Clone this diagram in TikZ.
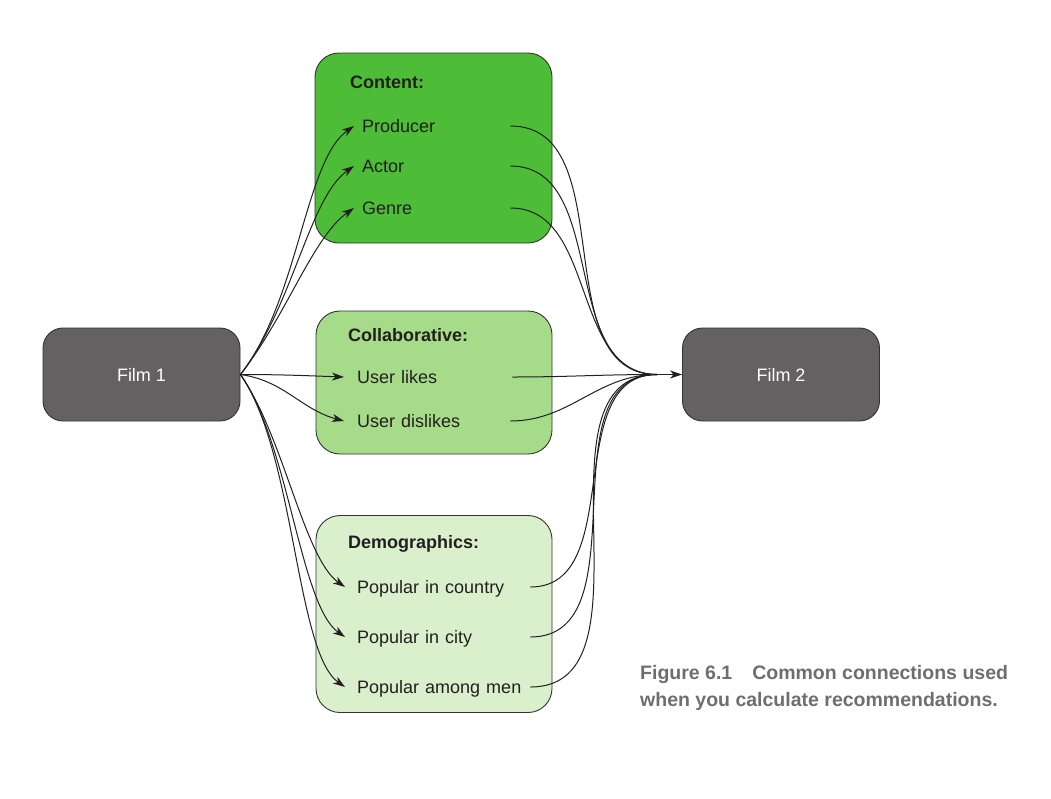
\documentclass[tikz,border=0pt]{standalone}
\usepackage{fontspec}
\setmainfont{Liberation Sans}
\usetikzlibrary{arrows.meta}
\definecolor{filmgray}{HTML}{636161}
\definecolor{contentgreen}{HTML}{4DBD38}
\definecolor{collabgreen}{HTML}{A6DC89}
\definecolor{demogreen}{HTML}{DAF0CD}
\definecolor{inkblack}{HTML}{231F20}
\definecolor{capgray}{HTML}{6D6E70}
\definecolor{edgegray}{HTML}{333333}
\tikzset{
  film/.style={draw=edgegray, line width=0.9pt, fill=filmgray, rounded corners=20pt,
    minimum width=197pt, minimum height=93pt, text=white, font=\fontsize{18}{22}\selectfont},
  group/.style={draw=edgegray, line width=0.9pt, rounded corners=24pt},
  head/.style={anchor=base west, inner sep=0pt, text=inkblack, font=\fontsize{18}{22}\selectfont\bfseries},
  item/.style={anchor=west, inner sep=0pt, text height=14pt, text depth=2pt, align=left,
    text=inkblack, font=\fontsize{18}{22}\selectfont},
  link/.style={draw=inkblack, line width=1pt},
  arr/.style={link, -{Stealth[length=12pt,width=8pt,inset=3.5pt]}},
  caption/.style={anchor=base west, inner sep=0pt, text=capgray, font=\fontsize{19.5}{24}\selectfont\bfseries}
}
\begin{document}
\begin{tikzpicture}[x=1pt,y=1pt]
\useasboundingbox (0,0) rectangle (1051,-798);
% group boxes
\node[group, fill=contentgreen, minimum width=237pt, minimum height=190pt] (gcontent) at (433.5,-148) {};
\node[group, fill=collabgreen, minimum width=236pt, minimum height=143pt] (gcollab) at (434,-382.5) {};
\node[group, fill=demogreen, minimum width=236pt, minimum height=197pt] (gdemo) at (434,-614) {};
% film nodes
\node[film] (f1) at (141.5,-374.5) {Film 1};
\node[film] (f2) at (781,-374.5) {Film 2};
% headers
\node[head] (hcontent) at (350,-88) {Content:};
\node[head] (hcollab) at (348,-341) {Collaborative:};
\node[head] (hdemo) at (348,-548) {Demographics:};
% items
\node[item, text width=148pt] (producer) at (362,-126) {Producer};
\node[item, text width=148pt] (actor) at (362,-166) {Actor};
\node[item, text width=148pt] (genre) at (362,-208) {Genre};
\node[item, text width=155pt] (likes) at (357,-377) {User likes};
\node[item, text width=153pt] (dislikes) at (357,-421) {User dislikes};
\node[item, text width=173pt] (country) at (357,-587) {Popular in country};
\node[item, text width=173pt] (city) at (357,-637) {Popular in city};
\node[item, text width=173pt] (men) at (357,-687) {Popular among men};
% merge point
\coordinate (m) at (657,-374.5);
% left connectors
\draw[arr] (f1.east) .. controls +(52:95) and +(215:60) .. ([xshift=-8pt]producer.west);
\draw[arr] (f1.east) .. controls +(52:85) and +(215:55) .. ([xshift=-8pt]actor.west);
\draw[arr] (f1.east) .. controls +(52:75) and +(215:50) .. ([xshift=-8pt]genre.west);
\draw[arr] (f1.east) to[out=0,in=178] ([xshift=-13pt]likes.west);
\draw[arr] (f1.east) to[out=-8,in=165] ([xshift=-13pt]dislikes.west);
\draw[arr] (f1.east) .. controls +(-55:75) and +(145:50) .. ([xshift=-12pt]country.west);
\draw[arr] (f1.east) .. controls +(-55:85) and +(145:55) .. ([xshift=-12pt]city.west);
\draw[arr] (f1.east) .. controls +(-55:95) and +(145:60) .. ([xshift=-12pt]men.west);
% right connectors
\foreach \n in {producer,actor,genre,likes,dislikes,country,city,men}
  \draw[link] (\n.east) to[out=0,in=180] (m);
\draw[arr] (m) -- (f2.west);
% caption
\node[caption] (cap1) at (640,-679) {Figure 6.1\hspace{20pt}Common connections used};
\node[caption] (cap2) at (640,-706) {when you calculate recommendations.};
\end{tikzpicture}
\end{document}
